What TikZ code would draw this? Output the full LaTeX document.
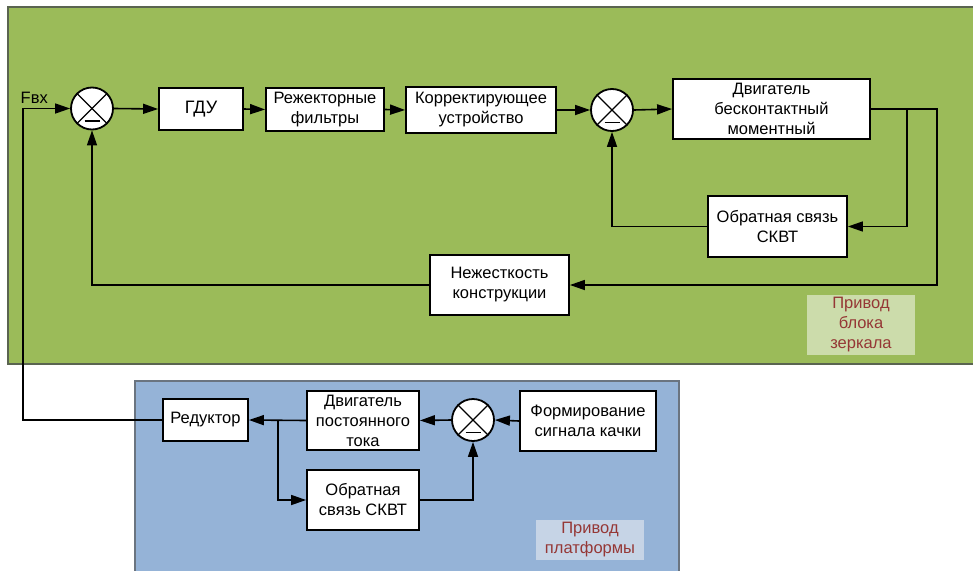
\documentclass[tikz,border=0pt]{standalone}
\usepackage{fontspec}
\setmainfont{Liberation Sans}
\usetikzlibrary{arrows.meta}
\definecolor{gfill}{HTML}{9BBB59}
\definecolor{gedge}{HTML}{5A6450}
\definecolor{bfill}{HTML}{95B3D7}
\definecolor{bedge}{HTML}{6A7480}
\definecolor{glab}{HTML}{CCDCAB}
\definecolor{blab}{HTML}{C6D4E6}
\definecolor{labtxt}{HTML}{953735}
\tikzset{
  blk/.style={draw=black, fill=white, line width=1.8pt, inner sep=0pt, align=center,
    font=\fontsize{16.5}{20}\selectfont},
  sumnode/.style={circle, draw=black, fill=white, line width=1.8pt, minimum size=42pt, inner sep=0pt},
  conn/.style={line width=1.6pt, draw=black},
  arr/.style={conn, -{Triangle[length=15pt,width=10pt]}},
  lab/.style={inner sep=0pt, align=center, text=labtxt, font=\fontsize{16.5}{20}\selectfont},
}
\newcommand{\sumdeco}[1]{%
  \draw[line width=1.3pt] (#1.north west) -- (#1.south east);
  \draw[line width=1.3pt] (#1.north east) -- (#1.south west);
  \draw[line width=1.8pt] ([shift={(-7.5,12.5)}]#1.center) -- ([shift={(7.5,12.5)}]#1.center);
}
\begin{document}
\begin{tikzpicture}[x=1pt,y=-1pt]
\useasboundingbox (0,0) rectangle (973,570);
\clip (0,0) rectangle (973,570);
% panels
\draw[fill=gfill, draw=gedge, line width=2pt] (8,7) rectangle (990,364);
\draw[fill=bfill, draw=bedge, line width=1.5pt] (135,381) rectangle (679,590);
% labels of panels
\node[lab, fill=glab, minimum width=108pt, minimum height=60pt] (labg) at (861,325) {Привод\\блока\\зеркала};
\node[lab, fill=blab, minimum width=108pt, minimum height=40pt] (labb) at (590,540) {Привод\\платформы};
% upper loop
\node[sumnode] (s1) at (92,108.5) {};
\node[sumnode] (s2) at (612,110) {};
\node[blk, minimum width=84pt, minimum height=42pt, font=\fontsize{18}{20}\selectfont] (gdu) at (201,109) {ГДУ};
\node[blk, minimum width=118pt, minimum height=43pt] (rej) at (325,109.5) {Режекторные\\фильтры};
\node[blk, minimum width=150pt, minimum height=46pt] (kor) at (481,110) {Корректирующее\\устройство};
\node[blk, minimum width=197pt, minimum height=60pt] (mot) at (771.5,109) {Двигатель\\бесконтактный\\моментный};
\node[blk, minimum width=139pt, minimum height=61pt] (skvt) at (777.5,226.5) {Обратная связь\\СКВТ};
\node[blk, minimum width=139pt, minimum height=60pt] (nej) at (499.5,285) {Нежесткость\\конструкции};
\node[inner sep=0pt, anchor=base west, font=\fontsize{16.5}{20}\selectfont] (fvx) at (20.5,103) {Fвх};
% lower loop
\node[sumnode] (s3) at (473,420) {};
\node[blk, minimum width=85pt, minimum height=42pt] (red) at (205.5,420) {Редуктор};
\node[blk, minimum width=112pt, minimum height=59pt] (dpt) at (363,420.5) {Двигатель\\постоянного\\тока};
\node[blk, minimum width=112pt, minimum height=60pt] (os) at (363,500) {Обратная\\связь СКВТ};
\node[blk, minimum width=136pt, minimum height=60pt] (form) at (588,421) {Формирование\\сигнала качки};
\sumdeco{s1}
\sumdeco{s2}
\sumdeco{s3}
% coordinates
\coordinate (cL) at (23,420);
\coordinate (cLt) at (23,108.5);
\coordinate (b1) at (907,109);
\coordinate (b2) at (937,109);
\coordinate (b3) at (278,420);
% upper connectors
\draw[arr] (red.west) -- (cL) -- (cLt) -- (s1.west);
\draw[arr] (s1.east) -- (gdu.west);
\draw[arr] (gdu.east) -- (rej.west);
\draw[arr] (rej.east) -- (kor.west);
\draw[arr] (kor.east) -- (s2.west);
\draw[arr] (s2.east) -- (mot.west);
\draw[arr] (mot.east) -- (b2) |- (nej.east);
\draw[arr] (b1) |- (skvt.east);
\draw[arr] (skvt.west) -| (s2.south);
\draw[arr] (nej.west) -| (s1.south);
% lower connectors
\draw[arr] (form.west) -- (s3.east);
\draw[arr] (s3.west) -- (dpt.east);
\draw[arr] (dpt.west) -- (red.east);
\draw[arr] (b3) |- (os.west);
\draw[arr] (os.east) -| (s3.south);
\end{tikzpicture}
\end{document}
